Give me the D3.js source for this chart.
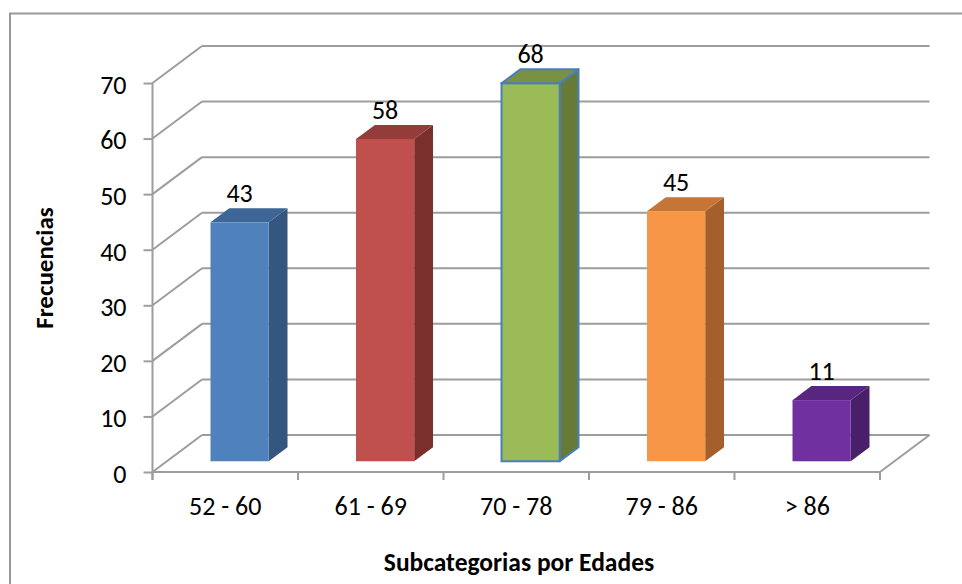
<!DOCTYPE html>
<html>
<head>
<meta charset="utf-8">
<script src="https://cdn.jsdelivr.net/npm/d3@7"></script>
<style>
  body { margin: 0; background: #fff; }
  text { font-family: Carlito, Calibri, Lato, sans-serif; fill: #000; }
</style>
</head>
<body>
<div id="chart"></div>
<script>
// data
const categories = ["52 - 60", "61 - 69", "70 - 78", "79 - 86", "> 86"];
const values = [43, 58, 68, 45, 11];
const yTicks = [0, 10, 20, 30, 40, 50, 60, 70];
const frontColors = ["#4F81BD", "#C0504D", "#9BBB59", "#F79646", "#7030A0"];
const topColors = ["#3D6595", "#943C3A", "#789143", "#C57636", "#58257F"];
const sideColors = ["#34567F", "#7B2F2D", "#667B37", "#A45F2A", "#4A1F6A"];

const width = 962, height = 584;

const svg = d3.select("#chart").append("svg")
  .attr("width", width)
  .attr("height", height);

// outer chart border
svg.append("rect")
  .attr("x", 10).attr("y", 13.5)
  .attr("width", 1000).attr("height", 700)
  .attr("fill", "none")
  .attr("stroke", "#999")
  .attr("stroke-width", 2);

// scales
const x = d3.scaleBand().domain(categories).range([152.5, 880]);
const xBar = d3.scaleBand().domain(categories).range([152.5, 880])
  .paddingInner(0.6).paddingOuter(0.3);
const y = d3.scaleLinear().domain([0, 70]).range([472, 83]);

// depth of the 3d box
const DX = 49.5, DY = -37;
const z0 = 0.29, z1 = 0.67;
function p(px, v, z) { return [px + z * DX, y(v) + z * DY]; }

const gridColor = "#9d9d9d";

// back wall + side wall gridlines
const grid = svg.append("g");
yTicks.forEach(t => {
  grid.append("line")
    .attr("x1", p(x.range()[0], t, 1)[0]).attr("y1", p(0, t, 1)[1])
    .attr("x2", p(x.range()[1], t, 1)[0]).attr("y2", p(0, t, 1)[1])
    .attr("stroke", gridColor).attr("stroke-width", 2);
  grid.append("line")
    .attr("x1", x.range()[0]).attr("y1", y(t))
    .attr("x2", p(x.range()[0], t, 1)[0]).attr("y2", p(0, t, 1)[1])
    .attr("stroke", gridColor).attr("stroke-width", 2);
});

// floor front edge and right edge
grid.append("line")
  .attr("x1", x.range()[0]).attr("y1", y(0))
  .attr("x2", x.range()[1]).attr("y2", y(0))
  .attr("stroke", gridColor).attr("stroke-width", 2);
grid.append("line")
  .attr("x1", x.range()[1]).attr("y1", y(0))
  .attr("x2", p(x.range()[1], 0, 1)[0]).attr("y2", p(0, 0, 1)[1])
  .attr("stroke", gridColor).attr("stroke-width", 2);

// category tick marks at band edges
const edges = categories.map(c => x(c)).concat([x.range()[1]]);
grid.selectAll("line.xtick")
  .data(edges)
  .enter()
  .append("line")
  .attr("class", "xtick")
  .attr("x1", d => d).attr("x2", d => d)
  .attr("y1", y(0)).attr("y2", y(0) + 8)
  .attr("stroke", gridColor).attr("stroke-width", 2);

// y axis
const yAxis = svg.append("g")
  .attr("transform", `translate(${x.range()[0]},0)`)
  .call(d3.axisLeft(y).tickValues(yTicks).tickSize(9).tickPadding(17));
yAxis.select(".domain").remove();
yAxis.append("line")
  .attr("x1", 0).attr("x2", 0)
  .attr("y1", y(70)).attr("y2", y(0) + 8)
  .attr("stroke", gridColor).attr("stroke-width", 2);
yAxis.selectAll(".tick line").attr("stroke", gridColor).attr("stroke-width", 2);
yAxis.selectAll(".tick text")
  .attr("fill", "#000")
  .attr("dy", "0.4em")
  .style("font-size", "26px");

// bars
const bars = svg.selectAll("g.bar")
  .data(values)
  .enter()
  .append("g")
  .attr("class", "bar");

bars.each(function(v, i) {
  const g = d3.select(this);
  const xl = xBar(categories[i]);
  const xr = xl + xBar.bandwidth();
  const outline = i === 2 ? "#4A7EBB" : "none";
  const sw = i === 2 ? 2 : 0;

  g.append("polygon")
    .attr("points", [p(xr, v, z0), p(xr, v, z1), p(xr, 0, z1), p(xr, 0, z0)].join(" "))
    .attr("fill", sideColors[i])
    .attr("stroke", outline).attr("stroke-width", sw).attr("stroke-linejoin", "round");
  g.append("polygon")
    .attr("points", [p(xl, v, z0), p(xl, v, z1), p(xr, v, z1), p(xr, v, z0)].join(" "))
    .attr("fill", topColors[i])
    .attr("stroke", outline).attr("stroke-width", sw).attr("stroke-linejoin", "round");
  const f0 = p(xl, v, z0), f1 = p(xr, 0, z0);
  g.append("rect")
    .attr("x", f0[0]).attr("y", f0[1])
    .attr("width", f1[0] - f0[0]).attr("height", f1[1] - f0[1])
    .attr("fill", frontColors[i])
    .attr("stroke", outline).attr("stroke-width", sw);

  // value label
  g.append("text")
    .attr("x", (f0[0] + f1[0]) / 2)
    .attr("y", f0[1] - 20)
    .attr("text-anchor", "middle")
    .style("font-size", "26px")
    .text(v);
});

// category labels
svg.selectAll("text.cat")
  .data(categories)
  .enter()
  .append("text")
  .attr("class", "cat")
  .attr("x", d => x(d) + x.bandwidth() / 2)
  .attr("y", 515)
  .attr("text-anchor", "middle")
  .style("font-size", "26px")
  .text(d => d);

// axis titles
svg.append("text")
  .attr("x", 519).attr("y", 571)
  .attr("text-anchor", "middle")
  .style("font-size", "25.5px")
  .style("font-weight", "bold")
  .text("Subcategorias por Edades");

svg.append("text")
  .attr("transform", "translate(53,268) rotate(-90)")
  .attr("text-anchor", "middle")
  .style("font-size", "25px")
  .style("font-weight", "bold")
  .text("Frecuencias");
</script>
</body>
</html>
